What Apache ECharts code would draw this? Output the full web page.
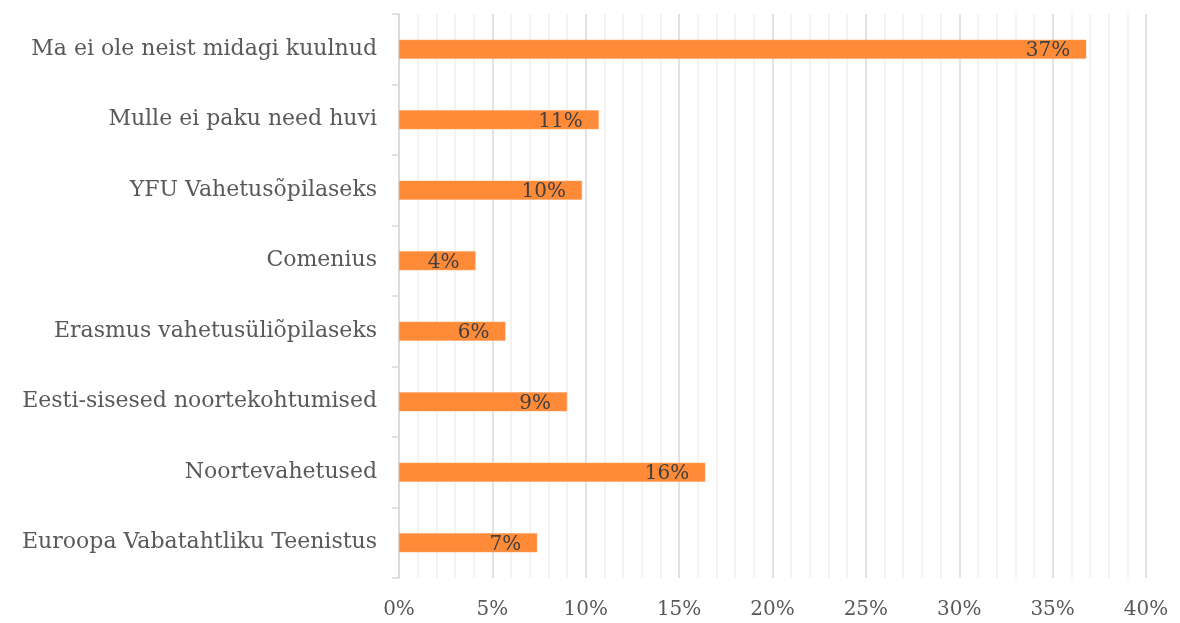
<!DOCTYPE html>
<html>
<head>
<meta charset="utf-8">
<script src="https://cdn.jsdelivr.net/npm/echarts@6/dist/echarts.min.js"></script>
<style>html,body{margin:0;padding:0;background:#fff}#c{width:1180px;height:623px}</style>
</head>
<body>
<div id="c"></div>
<script>
const categories = [
  "Ma ei ole neist midagi kuulnud",
  "Mulle ei paku need huvi",
  "YFU Vahetusõpilaseks",
  "Comenius",
  "Erasmus vahetusüliõpilaseks",
  "Eesti-sisesed noortekohtumised",
  "Noortevahetused",
  "Euroopa Vabatahtliku Teenistus"
];
const values = [36.8, 10.7, 9.8, 4.1, 5.7, 9.0, 16.4, 7.4];
const xTicks = [0, 5, 10, 15, 20, 25, 30, 35, 40];

const FONT = "DejaVu Serif";
const chart = echarts.init(document.getElementById('c'));
chart.setOption({
  animation: false,
  grid: { left: 399, right: 34, top: 14, bottom: 45, containLabel: false },
  xAxis: {
    type: 'value',
    min: xTicks[0],
    max: xTicks[xTicks.length - 1],
    interval: 5,
    axisLine: { show: false },
    axisTick: { show: false },
    axisLabel: { formatter: v => v + '%', color: '#595959', fontFamily: FONT, fontSize: 20, margin: 22 },
    splitLine: { show: true, lineStyle: { color: '#D9D9D9', width: 1.5 } },
    minorTick: { show: false, splitNumber: 5 },
    minorSplitLine: { show: true, lineStyle: { color: '#F0F0F0', width: 1.5 } }
  },
  yAxis: {
    type: 'category',
    data: categories,
    inverse: true,
    axisLine: { show: true, lineStyle: { color: '#D9D9D9', width: 1.5 } },
    axisTick: { show: true, length: 7, lineStyle: { color: '#D9D9D9', width: 1.5 } },
    axisLabel: { color: '#595959', fontFamily: FONT, fontSize: 22, margin: 22 }
  },
  series: [{
    type: 'bar',
    data: values,
    barWidth: 19,
    itemStyle: { color: '#FF8A38', borderColor: '#FFA060', borderWidth: 0.5 },
    label: {
      show: true,
      position: 'insideRight',
      distance: 16,
      offset: [0, 2],
      formatter: p => Math.round(p.value) + '%',
      color: '#404040',
      fontFamily: FONT,
      fontSize: 20
    }
  }]
});
</script>
</body>
</html>
